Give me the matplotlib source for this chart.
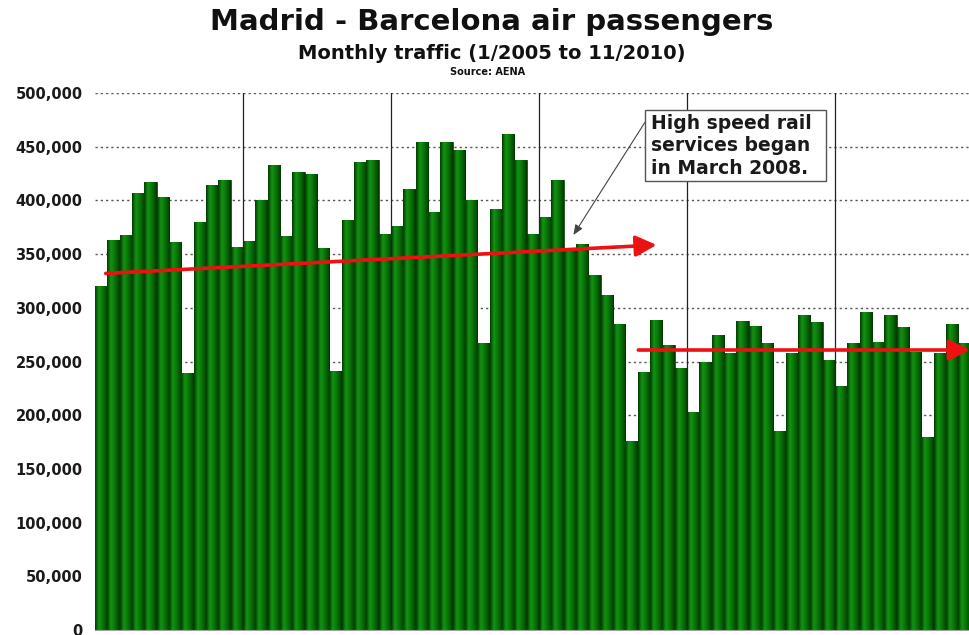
import numpy as np
import matplotlib
matplotlib.use("Agg")
import matplotlib.pyplot as plt
from matplotlib.colors import LinearSegmentedColormap
from matplotlib.patches import FancyArrowPatch, Rectangle
from matplotlib.ticker import FuncFormatter

# Monthly Madrid - Barcelona air passengers, thousands
years = [2005, 2006, 2007, 2008, 2009, 2010]
pax_2005 = [320, 363, 368, 407, 417, 403, 361, 239, 380, 414, 419, 357]
pax_2006 = [362, 400, 433, 367, 426, 425, 356, 241, 382, 436, 438, 369]
pax_2007 = [376, 411, 454, 389, 454, 447, 400, 267, 392, 462, 438, 369]
pax_2008 = [385, 419, 355, 359, 331, 312, 285, 176, 240, 289, 265, 244]
pax_2009 = [203, 250, 275, 258, 288, 283, 267, 185, 258, 293, 287, 251]
pax_2010 = [227, 267, 296, 268, 293, 282, 259, 180, 258, 285, 267]

# Trend arrows (month index, passengers in thousands)
pre_trend = [(0.37, 332), (45.05, 358.5)]
post_trend = [(43.56, 260.7), (70.45, 260.7)]

note_text = "High speed rail\nservices began\nin March 2008."
note_target = (38.3, 367.8)
note_box = (44.1, 418, 58.8, 484)   # x0, y0, x1, y1

yticks = [0, 50000, 100000, 150000, 200000, 250000, 300000, 350000,
          400000, 450000, 500000]

series = [pax_2005, pax_2006, pax_2007, pax_2008, pax_2009, pax_2010]
values = np.array([v for s in series for v in s], dtype=float) * 1000
months = [f"{m}/{y}" for y, s in zip(years, series) for m in range(1, len(s) + 1)]
x = np.arange(len(months))

fig = plt.figure(figsize=(9.7, 6.35), dpi=100)
ax = fig.add_axes([95 / 970, 5 / 635, 875.5 / 970, 537 / 635])

bars = ax.bar(x, values, width=1.0, color="#0a6a0a", edgecolor="#023802",
              linewidth=0.5, zorder=2)

# cylinder-like horizontal shading inside each bar
shade = LinearSegmentedColormap.from_list(
    "shade", [(0.0, "#023a02"), (0.3, "#139413"), (0.55, "#0c7a0c"),
              (0.85, "#045404"), (1.0, "#023302")])
grad = np.linspace(0, 1, 64).reshape(1, -1)
for b in bars:
    im = ax.imshow(grad, cmap=shade, aspect="auto", interpolation="bilinear",
                   extent=[b.get_x(), b.get_x() + b.get_width(), 0, b.get_height()],
                   zorder=2.1)
    im.set_clip_path(b)

ax.set_xlim(-0.5, len(x) - 0.5)
ax.set_ylim(0, 500000)

# year separators
for k in range(1, len(years)):
    ax.axvline(12 * k - 0.5, color="#222222", lw=0.9, zorder=3)

ax.set_yticks(yticks)
ax.yaxis.set_major_formatter(FuncFormatter(lambda v, p: f"{int(v):,}"))
ax.tick_params(axis="y", length=0, pad=9, labelsize=10.5, labelcolor="#1a1a1a")
for lab in ax.get_yticklabels():
    lab.set_fontweight("bold")
ax.set_xticks([])
ax.grid(axis="y", color="#555555", linestyle=(0, (1.6, 2.2)), linewidth=1.0)
ax.set_axisbelow(True)
for side in ("top", "right", "left"):
    ax.spines[side].set_visible(False)
ax.spines["bottom"].set_color("#9aa59a")
ax.spines["bottom"].set_linewidth(0.8)

# red trend arrows
for (x0, y0), (x1, y1) in (pre_trend, post_trend):
    arr = FancyArrowPatch((x0, y0 * 1000), (x1, y1 * 1000),
                          arrowstyle="-|>,head_length=0.9,head_width=0.45",
                          mutation_scale=14, color="#ee1111", lw=2.6,
                          shrinkA=0, shrinkB=0, zorder=5, clip_on=False)
    ax.add_patch(arr)

# annotation box with pointer to March 2008
bx0, by0, bx1, by1 = note_box
ax.add_patch(Rectangle((bx0, by0 * 1000), bx1 - bx0, (by1 - by0) * 1000,
                       facecolor="white", edgecolor="#555555", lw=1.0, zorder=6))
ax.text(bx0 + 0.5, by1 * 1000 - 3500, note_text, ha="left", va="top",
        fontsize=13.5, fontweight="bold", color="#1a1a1a", linespacing=1.22,
        zorder=7)
ax.annotate("", xy=(note_target[0], note_target[1] * 1000),
            xytext=(bx0, (by0 + 0.83 * (by1 - by0)) * 1000),
            arrowprops=dict(arrowstyle="-|>,head_length=0.6,head_width=0.25",
                            color="#444444", lw=0.8, shrinkA=0, shrinkB=0),
            zorder=6)

fig.text(0.507, 0.952, "Madrid - Barcelona air passengers", ha="center",
         va="baseline", fontsize=21, fontweight="bold", color="#111111")
fig.text(0.507, 0.907, "Monthly traffic (1/2005 to 11/2010)", ha="center",
         va="baseline", fontsize=14, fontweight="bold", color="#111111")
fig.text(0.503, 0.882, "Source: AENA", ha="center", va="baseline",
         fontsize=7, fontweight="bold", color="#111111")

fig.savefig("out.png", dpi=100)
